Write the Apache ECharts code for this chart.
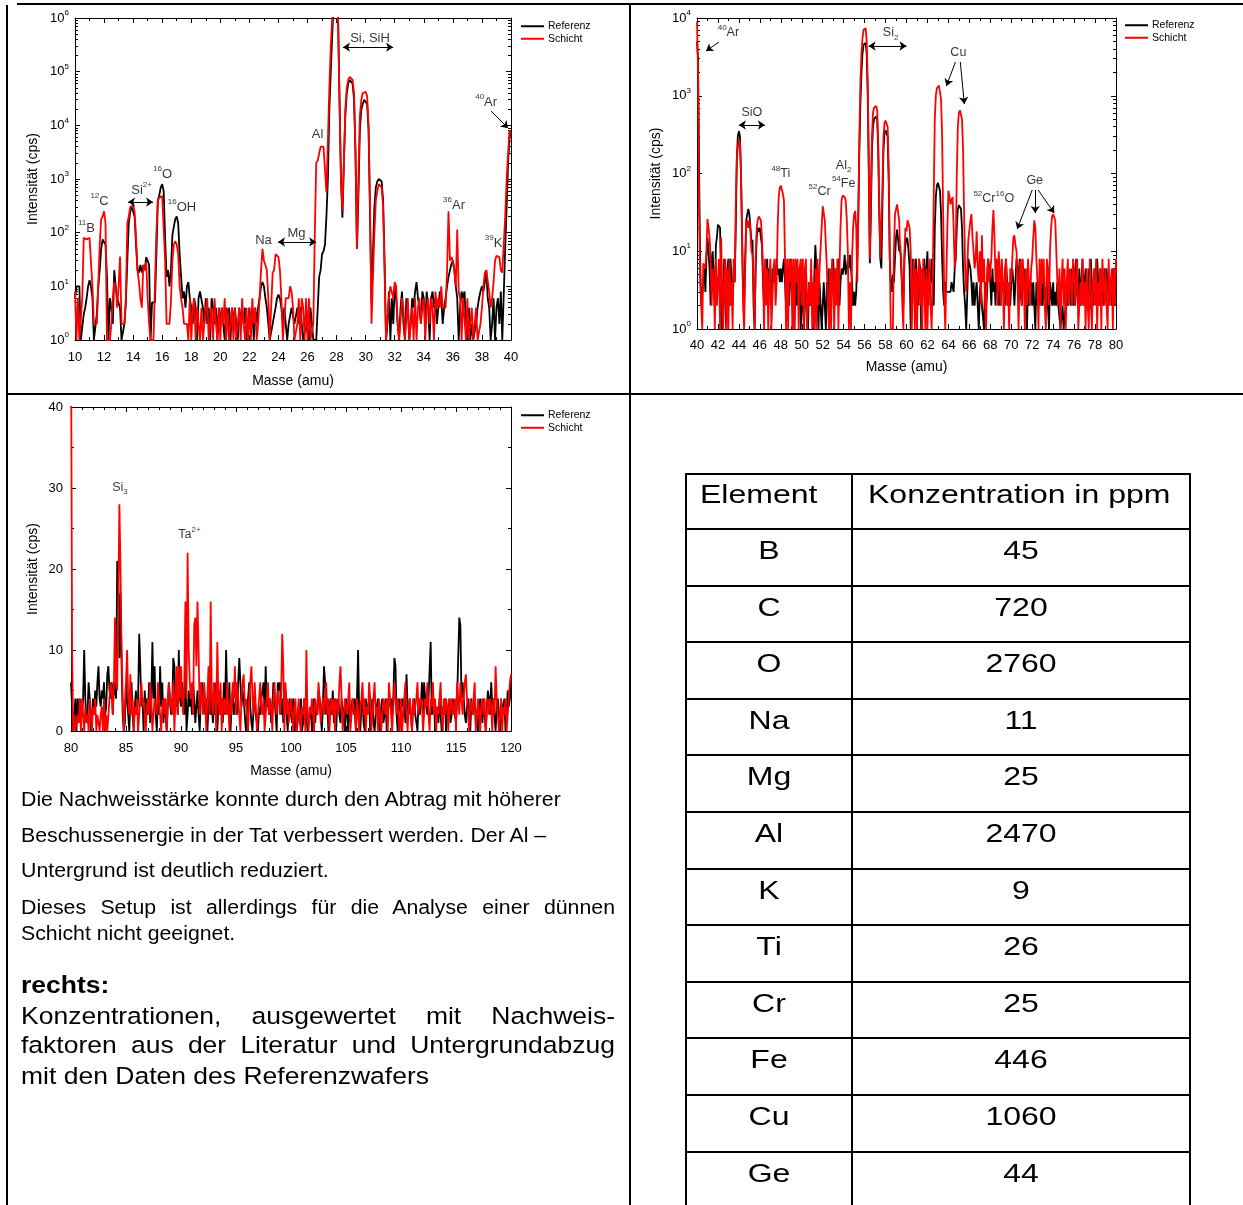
<!DOCTYPE html>
<html><head><meta charset="utf-8">
<script src="https://cdn.jsdelivr.net/npm/echarts@6/dist/echarts.min.js"></script>
<style>
html,body{margin:0;padding:0;background:#fff;}
body{width:1243px;height:1205px;position:relative;overflow:hidden;font-family:'Liberation Sans',Arial,Helvetica,sans-serif;color:#000;}
#chart{position:absolute;left:0;top:0;width:1243px;height:1205px;}
.ln{position:absolute;background:#000;z-index:5;}
.tx{position:absolute;color:#000;z-index:6;transform-origin:50% 50%;}
</style></head>
<body>
<div id="chart"></div>
<div id="overlay"></div>
<script>
// ---------------- DATA ----------------
// Spectrum 1: 10..40 amu, step 0.1 (counts per second)
const mass1Start = 10;
const ref1 = [
6,10,10,10,1,1,3,4,6,10,
13,10,6,1,1,3,10,20,50,75,
80,60,15,1,6,4,2,20,10,6,
6,4,1,1,2,5,30,150,250,300,
300,200,60,20,18,25,18,25,20,35,
30,25,1,5,5,5,40,400,500,700,
800,600,80,15,20,10,20,90,130,180,
200,150,40,15,6,8,4,10,12,6,
4,2,6,4,1,6,8,8,4,2,
6,2,4,1,6,4,2,4,1,4,
2,4,2,1,4,2,4,1,4,2,
4,2,1,4,2,4,2,4,1,2,
4,2,4,1,4,2,4,6,10,12,
10,6,4,2,1,1,2,2,4,6,
7,6,4,2,4,2,1,2,2,4,
4,2,2,4,2,4,2,1,1,2,
2,1,4,2,1,1,1,1,15,20,
40,45,60,200,1000,20000,100000,500000,2000000,2000000,
2000000,1000000,30000,1000,190,2000,15000,40000,60000,70000,
70000,60000,30000,3000,50,500,8000,20000,25000,30000,
30000,25000,8000,200,5,40,300,700,900,1000,
1050,900,400,30,1,2,8,1,6,2,
10,6,2,1,4,8,2,1,6,4,
1,2,6,4,8,12,6,4,2,8,
6,2,8,4,1,6,8,4,6,2,
4,8,6,2,4,6,10,15,20,26,
30,20,10,6,1,4,8,6,8,2,
1,4,1,2,1,1,2,4,6,8,
10,8,12,20,6,4,1,2,6,1,
4,6,2,8,1,1,50,300,2000,6000,
8000];
const sch1 = [
8,1,6,1,1,6,80,80,75,80,
80,75,10,2,2,2,10,60,180,200,
250,150,1,1,1,2,6,12,10,4,
10,36,2,2,2,6,150,200,300,320,
320,250,80,20,12,6,4,25,20,28,
6,2,1,1,1,1,100,400,450,480,
480,500,30,2,2,2,5,30,60,70,
60,40,10,6,4,2,2,2,1,6,
1,4,6,1,4,2,1,4,1,2,
4,6,1,2,4,1,6,2,1,4,
1,4,2,6,1,4,1,2,4,1,
4,1,2,4,1,6,2,1,4,1,
4,1,6,2,4,1,2,6,20,50,
30,25,20,6,1,1,18,20,40,38,
35,20,6,1,1,6,6,6,10,8,
4,1,1,2,6,1,6,4,1,6,
1,6,1,1,2,100,2000,2200,3000,4000,
4300,4000,1500,560,5000,50000,300000,1000000,2000000,2000000,
2000000,1000000,30000,1000,250,2000,20000,50000,70000,80000,
80000,70000,40000,3000,50,1000,15000,30000,40000,42000,
42000,35000,10000,300,2,2,100,400,600,800,
800,700,300,20,1,1,6,10,10,6,
12,10,2,1,1,6,4,1,1,6,
1,1,4,1,6,1,4,6,2,4,
6,1,4,6,2,6,4,1,8,4,
6,4,10,4,4,4,20,250,30,35,
30,20,10,115,8,6,1,6,6,1,
6,1,1,4,1,1,4,1,1,2,
4,10,18,20,20,8,4,6,12,30,
37,37,35,20,18,60,200,1000,3000,8000,
7000];

// Spectrum 2: 40..80 amu, step 0.1
const mass2Start = 40;
const ref2 = [
5000,3000,100,8,2,2,4,6,3,8,
15,10,6,2,8,10,4,2,12,15,
22,23,20,4,1,3,8,2,1,6,
8,2,8,4,2,6,4,20,150,300,
350,300,100,15,3,2,8,25,30,35,
30,20,13,14,2,1,6,15,20,18,
20,15,12,4,2,6,4,8,2,6,
4,2,6,4,6,4,8,5,6,4,
6,4,6,8,4,2,6,4,2,8,
4,2,6,1,4,2,6,2,4,1,
2,4,1,2,6,2,1,4,2,5,
2,1,5,12,6,2,1,4,2,1,
2,4,2,1,4,2,6,2,4,6,
8,4,2,6,4,8,2,4,6,5,
6,9,5,6,8,6,9,6,4,2,
3,2,3,8,30,200,800,2000,3500,4500,
4600,4800,3500,1000,100,7,30,200,400,500,
530,540,500,200,30,8,6,40,200,330,
360,370,300,80,8,4,3,5,4,8,
15,19,14,10,12,6,3,2,8,12,
15,14,10,6,1,2,8,6,2,8,
4,2,8,6,1,6,4,8,2,6,
10,2,6,4,8,3,2,20,50,70,
76,75,60,30,8,3,2,4,3,3,
3,3,3,4,4,3,6,8,20,35,
39,39,35,20,6,3,2,1,1,8,
8,6,4,2,4,2,3,4,2,1,
3,4,2,2,1,4,2,3,8,6,
4,2,6,3,4,2,8,3,2,4,
2,6,3,4,2,8,4,2,3,2,
4,6,4,2,4,8,6,4,8,3,
2,4,6,3,2,1,4,2,3,4,
2,4,2,1,4,2,3,4,2,4,
2,4,3,2,4,2,1,4,3,2,
4,2,3,2,4,2,2,1,1,2,
1,1,2,4,2,3,4,2,6,2,
4,2,8,3,2,6,2,4,8,2,
4,6,2,3,6,2,8,3,2,4,
6,2,8,4,2,6,3,4,2,6,
4,6,6,2,4,3,2,6,4,2,
4];
const sch2 = [
9000,2000,30,4,2,1,7,7,6,10,
26,20,15,8,2,6,4,1,8,2,
4,8,1,15,4,1,4,8,1,6,
1,8,2,4,1,8,4,40,150,220,
270,250,100,20,2,1,6,22,25,20,
25,18,10,9,4,1,8,20,25,28,
28,25,15,6,1,8,2,6,1,4,
8,1,1,6,8,2,4,20,50,65,
70,72,55,45,8,1,8,1,8,4,
8,1,8,1,8,4,8,1,6,8,
2,8,1,6,8,1,1,4,2,8,
1,4,1,6,1,8,2,6,6,20,
38,40,25,12,6,2,1,6,1,8,
4,1,6,2,8,1,6,20,45,52,
52,50,45,25,10,1,4,1,8,20,
30,33,20,4,30,300,1500,3500,5500,7000,
7200,7400,5000,1500,150,8,50,300,600,700,
720,740,650,250,40,8,8,60,300,450,
480,500,400,120,10,1,1,1,10,30,
30,40,38,25,10,8,2,1,10,20,
18,25,26,20,10,1,4,8,1,6,
1,4,8,2,6,1,8,4,1,6,
1,4,8,2,1,4,50,500,1000,1250,
1300,1350,1300,900,300,30,3,1,1,20,
60,50,40,45,50,20,6,10,100,400,
600,650,620,500,200,30,6,3,6,14,
14,25,30,15,10,6,8,18,6,4,
10,2,16,4,8,2,1,6,8,4,
4,8,20,34,15,4,8,2,10,6,
2,8,4,1,6,8,2,4,1,6,
4,8,15,16,12,10,4,1,6,8,
2,8,4,1,6,2,8,4,2,6,
8,15,25,20,8,4,1,8,2,8,
4,8,2,1,8,6,2,10,20,28,
30,31,25,10,4,2,6,1,4,8,
2,6,1,4,8,2,6,4,2,8,
6,2,4,8,1,1,4,2,8,2,
4,1,6,2,1,8,2,1,4,6,
2,8,1,4,2,6,1,8,4,2,
6,2,1,8,2,4,6,1,6,2,
8];

// Spectrum 3: 80..120 amu, step 0.1
const mass3Start = 80;
const ref3 = [
6,6,0,2,4,0,4,2,4,3,
2,4,10,4,1,2,6,4,0,2,
4,2,5,3,6,8,4,3,5,4,
6,2,3,7,8,5,4,6,2,6,
6,4,21,18,9,17,8,2,0,1,
6,4,2,0,4,6,2,0,3,5,
2,4,12,8,3,4,0,5,2,4,
2,6,1,4,11,4,8,2,0,4,
2,8,3,6,1,4,2,0,3,6,
4,2,3,9,8,3,6,2,10,4,
3,6,4,2,8,0,2,5,3,4,
2,6,4,1,3,5,2,0,4,6,
3,5,2,4,0,3,6,2,4,1,
4,2,6,0,3,5,2,4,1,6,
2,10,4,2,6,0,3,5,2,3,
4,2,6,9,6,3,5,4,2,0,
2,4,6,3,1,0,3,4,2,1,
0,3,2,4,5,6,2,8,3,4,
2,4,1,3,6,4,2,0,6,5,
6,2,4,1,3,5,2,0,3,4,
2,1,4,0,2,0,1,3,2,4,
0,1,4,4,2,0,1,2,3,0,
2,4,1,3,2,5,4,2,0,3,
8,6,2,4,0,3,4,2,5,1,
4,0,3,4,2,1,4,2,3,0,
4,2,0,4,1,3,4,2,4,0,
4,10,2,0,3,4,1,0,4,2,
3,4,0,2,4,1,0,2,3,4,
2,0,3,4,1,2,4,0,2,4,
3,4,2,4,9,8,2,0,4,3,
2,4,3,4,1,7,3,2,4,2,
0,3,4,2,1,0,4,2,3,6,
2,6,4,3,2,4,4,11,2,3,
4,0,2,3,1,4,2,0,3,2,
4,0,3,2,4,1,2,4,3,2,
1,4,4,14,13,4,6,4,2,1,
3,4,2,0,4,2,3,4,1,2,
0,2,4,3,1,4,2,0,3,5,
4,2,6,3,4,2,0,3,4,2,
0,4,2,3,4,0,2,5,3,4,
6];
const sch3 = [
50,10,0,2,0,0,2,1,4,0,
4,2,0,3,1,2,0,4,2,0,
3,2,4,0,2,1,0,2,3,0,
4,0,2,0,2,4,6,5,2,6,
14,6,5,5,28,20,10,4,0,3,
6,10,4,2,7,2,4,0,3,2,
4,0,2,4,6,3,4,2,0,3,
4,2,6,4,0,2,4,3,2,6,
4,2,0,3,4,2,4,0,4,6,
3,4,2,6,0,4,8,2,8,4,
8,4,2,6,16,4,22,10,6,4,
6,2,13,14,8,16,10,2,6,4,
2,6,4,0,4,8,2,16,4,2,
6,4,0,11,4,2,6,0,4,2,
4,2,6,3,0,4,2,6,4,8,
2,6,4,2,0,4,6,7,3,4,
2,0,4,6,8,4,2,6,3,0,
2,4,6,3,2,4,0,2,4,6,
2,4,3,0,4,6,3,2,5,4,
2,4,12,8,0,6,2,4,1,3,
4,2,0,3,4,0,2,4,1,0,
3,2,4,0,10,2,0,3,2,4,
2,0,4,3,2,6,4,1,3,4,
2,4,6,2,4,0,3,4,2,4,
0,4,3,2,6,8,4,0,2,4,
3,2,4,6,0,2,4,3,2,0,
4,2,0,3,4,6,2,4,0,3,
2,6,4,0,2,4,6,2,3,0,
4,2,0,2,4,3,2,4,0,6,
4,2,0,3,6,4,2,4,1,0,
4,0,2,4,6,2,0,3,4,2,
0,4,2,3,4,6,2,4,3,4,
0,2,4,3,6,2,0,4,3,6,
2,4,0,3,2,4,6,2,0,4,
2,4,3,0,4,2,4,3,2,4,
0,6,4,2,6,4,2,4,6,7,
4,2,0,4,3,2,4,6,0,2,
4,2,0,3,4,2,4,0,2,4,
2,4,3,0,4,2,8,4,2,0,
2,4,0,3,2,4,0,2,4,6,
7];

const seriesNames = ['Referenz', 'Schicht'];
const xTitle = 'Masse (amu)';
const yTitle = 'Intensität (cps)';

// table
const elements = ['B','C','O','Na','Mg','Al','K','Ti','Cr','Fe','Cu','Ge'];
const concentrations = [45,720,2760,11,25,2470,9,26,25,446,1060,44];
const tableHead = ['Element','Konzentration in ppm'];

// annotations: [label (rich), mass, intensity]
const ann1 = [
  ['{u|11}{n|B}', 10.79, 122], ['{u|12}{n|C}', 11.69, 388], ['{n|Si}{u|2+}', 14.58, 621],
  ['{u|16}{n|O}', 16.02, 1234], ['{u|16}{n|OH}', 17.36, 300], ['{n|Na}', 22.97, 73],
  ['{n|Mg}', 25.24, 98], ['{n|Al}', 26.69, 6860], ['{n|Si, SiH}', 30.30, 420000],
  ['{u|40}{n|Ar}', 38.29, 27000], ['{u|36}{n|Ar}', 36.08, 326], ['{u|39}{n|K}', 38.80, 64]
];
const arr1 = [ // [x1,y1,x2,y2,double]
  [13.65,371,15.37,371,1], [23.97,67,26.59,67,1], [28.44,286000,31.89,286000,1],
  [38.63,18400,39.80,8870,0]
];
const ann2 = [
  ['{u|40}{n|Ar}', 43.0, 6410], ['{n|SiO}', 45.24, 600], ['{u|48}{n|Ti}', 48.0, 98.6],
  ['{u|52}{n|Cr}', 51.71, 57.8], ['{n|Al}{d|2}', 54.0, 128], ['{u|54}{n|Fe}', 54.0, 75],
  ['{n|Si}{d|2}', 58.48, 6410], ['{n|Cu}', 64.95, 3550], ['{u|52}{n|Cr}{u|16}{n|O}', 68.33, 47],
  ['{n|Ge}', 72.24, 80]
];
const arr2 = [
  [42.1,4910,40.86,3765,0], [44.0,421,46.48,421,1], [56.38,4365,60.0,4365,1],
  [64.67,2718,63.81,1334,0], [65.14,2718,65.52,783,0],
  [72.0,61.3,70.57,19.3,0], [72.29,61.3,72.29,31,0], [72.57,61.3,74.1,31,0]
];
const ann3 = [ ['{n|Si}{d|3}', 84.45, 30.1], ['{n|Ta}{u|2+}', 90.77, 24.3] ];

// ---------------- BUILD ----------------
const F = "'Liberation Sans', Arial, Helvetica, sans-serif";
function toPairs(start, vals){ return vals.map((v,i)=>[Math.round((start*10 + i))/10, v]); }

const chart = echarts.init(document.getElementById('chart'), null, {renderer:'canvas'});

const grids = [
  {left:75, top:18, width:436, height:322},
  {left:697, top:18, width:419, height:311},
  {left:71, top:407, width:440, height:324}
];

const black = '#000';
function mkX(gi, min, max, interval, minorSplit, pos, margin, nameGap){
  return {
    type:'value', gridIndex:gi, position:pos, min:min, max:max, interval:interval,
    axisLine:{show:true, onZero:false, lineStyle:{color:black, width:1}},
    axisTick:{show:true, inside:true, length:5, lineStyle:{color:black, width:1}},
    minorTick:{show:true, splitNumber:minorSplit, length:3, lineStyle:{color:black, width:1}},
    splitLine:{show:false}, minorSplitLine:{show:false},
    axisLabel:{show: pos==='bottom', color:black, fontFamily:F, fontSize:13, margin:margin},
    name: pos==='bottom' ? xTitle : '', nameLocation:'middle', nameGap:nameGap,
    nameTextStyle:{color:black, fontFamily:F, fontSize:14}
  };
}
const logRich = {
  b:{fontSize:13, lineHeight:18, color:black, fontFamily:F},
  s:{fontSize:8, lineHeight:9, verticalAlign:'top', color:black, fontFamily:F}
};
function mkYLog(gi, max, pos, margin, nameGap){
  return {
    type:'log', logBase:10, gridIndex:gi, position:pos, min:1, max:max, interval:1,
    axisLine:{show:true, onZero:false, lineStyle:{color:black, width:1}},
    axisTick:{show:true, inside:true, length:5, lineStyle:{color:black, width:1}},
    splitLine:{show:false}, minorTick:{show:false},
    axisLabel:{show: pos==='left', margin:margin, color:black,
      formatter: v => '{b|10}{s|' + Math.round(Math.log10(v)) + '}', rich: logRich},
    name: pos==='left' ? yTitle : '', nameLocation:'middle', nameGap:nameGap,
    nameTextStyle:{color:black, fontFamily:F, fontSize:14}
  };
}
function mkYMinor(gi, decades, pos){
  const vals = [];
  for (let d=0; d<decades; d++) for (let k=2; k<=9; k++) vals.push(d + Math.log10(k));
  return {
    type:'value', gridIndex:gi, position:pos, min:0, max:decades,
    axisLine:{show:false}, axisLabel:{show:false}, splitLine:{show:false},
    axisTick:{show:true, inside:true, length:3, customValues: vals, lineStyle:{color:black, width:1}}
  };
}
function mkYLin(gi, pos, margin, nameGap){
  return {
    type:'value', gridIndex:gi, position:pos, min:0, max:40, interval:10,
    axisLine:{show:true, onZero:false, lineStyle:{color:black, width:1}},
    axisTick:{show:true, inside:true, length:5, lineStyle:{color:black, width:1}},
    minorTick:{show:true, splitNumber:2, length:3, lineStyle:{color:black, width:1}},
    splitLine:{show:false}, minorSplitLine:{show:false},
    axisLabel:{show: pos==='left', margin:margin, color:black, fontFamily:F, fontSize:13},
    name: pos==='left' ? yTitle : '', nameLocation:'middle', nameGap:nameGap,
    nameTextStyle:{color:black, fontFamily:F, fontSize:14}
  };
}

const xAxis = [
  mkX(0,10,40,2,2,'bottom',11,34), mkX(0,10,40,2,2,'top',9,0),
  mkX(1,40,80,2,2,'bottom',10,31), mkX(1,40,80,2,2,'top',9,0),
  mkX(2,80,120,5,5,'bottom',11,33), mkX(2,80,120,5,5,'top',9,0)
];
const yAxis = [
  mkYLog(0,1e6,'left',6,35), mkYLog(0,1e6,'right',6,0), mkYMinor(0,6,'left'), mkYMinor(0,6,'right'),
  mkYLog(1,1e4,'left',6,34), mkYLog(1,1e4,'right',6,0), mkYMinor(1,4,'left'), mkYMinor(1,4,'right'),
  mkYLin(2,'left',8,31), mkYLin(2,'right',8,0)
];

function lineSeries(name, color, gi, xi, yi, start, vals){
  return {
    type:'line', name:name, xAxisIndex:xi, yAxisIndex:yi, data: toPairs(start, vals),
    showSymbol:false, symbol:'none', silent:true, animation:false,
    lineStyle:{color:color, width:1.8}, itemStyle:{color:color}, clip:true
  };
}
function annRich(fs){
  return {
    n:{fontSize:fs, lineHeight:fs+5, color:black, fontFamily:F},
    u:{fontSize:8, lineHeight:9, verticalAlign:'top', color:black, fontFamily:F},
    d:{fontSize:8, lineHeight:9, verticalAlign:'bottom', color:black, fontFamily:F}
  };
}
function annSeries(xi, yi, ann, arrows, fs){
  const s = {
    type:'scatter', name:'ann'+xi, xAxisIndex:xi, yAxisIndex:yi, silent:true, animation:false,
    symbol:'circle', symbolSize:1, itemStyle:{color:'rgba(0,0,0,0)'}, clip:false,
    data: ann.map(a => ({value:[a[1], a[2]], t:a[0]})),
    label:{show:true, position:'inside', color:black, fontFamily:F, fontSize:fs,
      formatter: p => p.data.t, rich: annRich(fs)}
  };
  if (arrows && arrows.length){
    s.markLine = {
      silent:true, animation:false, symbolSize:7, precision:4,
      lineStyle:{color:black, width:1, type:'solid'}, label:{show:false},
      data: arrows.map(r => [
        {coord:[r[0], r[1]], symbol: r[4] ? 'arrow' : 'none'},
        {coord:[r[2], r[3]], symbol:'arrow'}
      ])
    };
  }
  return s;
}

const series = [
  lineSeries(seriesNames[0], '#000000', 0, 0, 0, mass1Start, ref1),
  lineSeries(seriesNames[1], '#ff0000', 0, 0, 0, mass1Start, sch1),
  annSeries(0, 0, ann1, arr1, 13),
  lineSeries(seriesNames[0], '#000000', 1, 2, 4, mass2Start, ref2),
  lineSeries(seriesNames[1], '#ff0000', 1, 2, 4, mass2Start, sch2),
  annSeries(2, 4, ann2, arr2, 12.5),
  lineSeries(seriesNames[0], '#000000', 2, 4, 8, mass3Start, ref3),
  lineSeries(seriesNames[1], '#ff0000', 2, 4, 8, mass3Start, sch3),
  annSeries(4, 8, ann3, [], 12.5)
];

function mkLegend(left, top){
  return {
    data: seriesNames, orient:'vertical', left:left, top:top, padding:0,
    itemWidth:23, itemHeight:2, itemGap:0, icon:'rect', selectedMode:false,
    textStyle:{color:black, fontFamily:F, fontSize:10.5, lineHeight:12.5, padding:[0,0,0,-1]}
  };
}

chart.setOption({
  animation:false,
  backgroundColor:'#ffffff',
  textStyle:{fontFamily:F},
  grid: grids,
  legend: [mkLegend(521,20), mkLegend(1125,19), mkLegend(521,409)],
  xAxis: xAxis, yAxis: yAxis, series: series
});

// ---------------- HTML overlay: frame lines, text, table ----------------
const ov = document.getElementById('overlay');
function line(l,t,w,h){ const d=document.createElement('div'); d.className='ln';
  d.style.left=l+'px'; d.style.top=t+'px'; d.style.width=w+'px'; d.style.height=h+'px'; ov.appendChild(d); }
// page frame
line(17,3,1226,2);
line(6,5,2,1200);
line(629,5,2,1200);
line(7,393,1236,2);

function text(str, left, cy, fs, sy, opts){
  opts = opts || {};
  const d = document.createElement('div'); d.className='tx';
  d.textContent = str;
  d.style.left = left+'px'; d.style.top = (cy - fs/2)+'px';
  d.style.fontSize = fs+'px'; d.style.lineHeight = fs+'px'; d.style.height = fs+'px';
  d.style.transform = 'scaleY('+sy+')';
  if (opts.bold) d.style.fontWeight = 'bold';
  if (opts.width){ d.style.width = opts.width+'px'; }
  if (opts.justify){ d.style.textAlign='justify'; d.style.textAlignLast='justify'; }
  else if (opts.center){ d.style.textAlign='center'; d.style.whiteSpace='nowrap'; }
  else d.style.whiteSpace='nowrap';
  ov.appendChild(d);
}
const paraSmall = [
  ['Die Nachweisstärke konnte durch den Abtrag mit höherer', 799.3, false],
  ['Beschussenergie in der Tat verbessert werden. Der Al –', 835.5, false],
  ['Untergrund ist deutlich reduziert.', 871, false],
  ['Dieses Setup ist allerdings für die Analyse einer dünnen', 908, true],
  ['Schicht nicht geeignet.', 934, false]
];
paraSmall.forEach(p => text(p[0], 21, p[1], 21.3, 0.93, {justify:p[2], width:p[2]?594:null}));
text('rechts:', 21, 985, 26.5, 0.88, {bold:true});
const paraLarge = [
  ['Konzentrationen, ausgewertet mit Nachweis-', 1016.7, true],
  ['faktoren aus der Literatur und Untergrundabzug', 1045.7, true],
  ['mit den Daten des Referenzwafers', 1076, false]
];
paraLarge.forEach(p => text(p[0], 21, p[1], 26.5, 0.88, {justify:p[2], width:p[2]?594:null}));

// table
const tL = 686, tM = 852, tR = 1190, tTop = 474, hBot = 529, rowH = 56.6;
line(tL-1, tTop-1, tR-tL+2, 2);
for (let i=0; i<=elements.length; i++) line(tL-1, hBot + i*rowH - 1, tR-tL+2, 2);
line(tL-1, tTop-1, 2, 1210-tTop);
line(tM-1, tTop-1, 2, 1210-tTop);
line(tR-1, tTop-1, 2, 1210-tTop);
text(tableHead[0], 700, tTop+20, 32, 0.8);
text(tableHead[1], 868, tTop+20, 32, 0.8);
elements.forEach((e,i) => {
  const cy = hBot + i*rowH + 21;
  text(e, tL, cy, 32, 0.8, {center:true, width:tM-tL});
  text(String(concentrations[i]), tM, cy, 32, 0.8, {center:true, width:tR-tM});
});
</script>
</body></html>
